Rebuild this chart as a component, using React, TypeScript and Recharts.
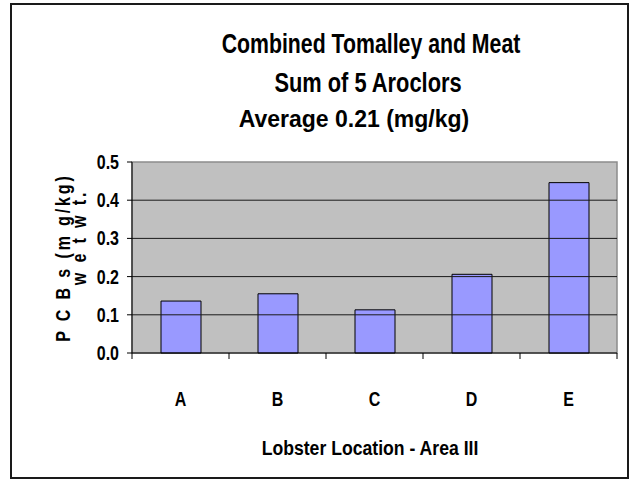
import React from "react";
import {
  BarChart,
  Bar,
  XAxis,
  YAxis,
  ReferenceArea,
  ReferenceLine,
} from "recharts";

// Lobster sampling locations (Area III)
const locations = ["A", "B", "C", "D", "E"];
// Sum of 5 Aroclors, PCBs mg/kg wet wt.
const pcbValues = [0.136, 0.155, 0.113, 0.206, 0.446];
const yTicks = [0, 0.1, 0.2, 0.3, 0.4, 0.5];
const gridValues = [0.1, 0.2, 0.3, 0.4];

const titleLines = ["Combined Tomalley and Meat", "Sum of 5 Aroclors"];
const subtitle = "Average 0.21 (mg/kg)";
const xTitle = "Lobster Location - Area III";
const yTitleLines = ["P C B s (m g/kg)", "w e t w t."];

const data = locations.map((loc, i) => ({ loc, pcb: pcbValues[i] }));

const FONT = "'Liberation Sans', Arial, sans-serif";

// bold condensed text, like Arial Narrow Bold in the original
// (no narrow face installed, so the bold sans is squeezed)
const Narrow = ({ x, y, size, anchor = "middle", rotate = 0, squeeze = 0.8, spacing = 0, children }: any) => (
  <text
    transform={`translate(${x} ${y}) rotate(${rotate}) scale(${squeeze} 1)`}
    textAnchor={anchor}
    fontFamily={FONT}
    fontWeight="bold"
    fontSize={size}
    letterSpacing={spacing}
    fill="#000"
  >
    {children}
  </text>
);

// category label plus the Excel-style tick marks between categories
const CatTick = ({ x, y, payload, index, width }: any) => {
  const half = payload.offset || (width ? width / locations.length / 2 : 0);
  const isLast = index === locations.length - 1;
  return (
    <g>
      <line x1={x - half} y1={y} x2={x - half} y2={y + 6} stroke="#000" />
      {isLast && <line x1={x + half} y1={y} x2={x + half} y2={y + 6} stroke="#000" />}
      <Narrow x={x} y={y + 53} size={20}>
        {payload.value}
      </Narrow>
    </g>
  );
};

const ValueTick = ({ x, y, payload }: any) => (
  <Narrow x={x} y={y + 7} size={20} anchor="end">
    {Number(payload.value).toFixed(1)}
  </Narrow>
);

const YTitle = ({ viewBox }: any) => {
  const cy = viewBox.y + viewBox.height / 2;
  return (
    <g>
      <Narrow x={viewBox.x + 70} y={cy} size={20} rotate={-90} spacing={3.6}>
        {yTitleLines[0]}
      </Narrow>
      <Narrow x={viewBox.x + 86} y={cy - 20} size={20} rotate={-90} spacing={3.6}>
        {yTitleLines[1]}
      </Narrow>
    </g>
  );
};

export default function App() {
  return (
    <div style={{ position: "absolute", left: 0, top: 0, width: 633, height: 479, background: "#fff" }}>
      {/* chart frame */}
      <div
        style={{
          position: "absolute",
          left: 10,
          top: 3,
          width: 619,
          height: 476,
          border: "2px solid #1a1a1a",
          boxSizing: "border-box",
        }}
      />
      <BarChart
        width={633}
        height={479}
        data={data}
        margin={{ top: 162, right: 16, bottom: 0, left: 0 }}
        style={{ position: "absolute", left: 0, top: 0 }}
      >
        {/* gray plot area with its thin gray border */}
        <ReferenceArea y1={0} y2={0.5} fill="#C0C0C0" fillOpacity={1} stroke="#8c8c8c" strokeWidth={1.5} />
        {gridValues.map((v) => (
          <ReferenceLine key={v} y={v} stroke="#1a1a1a" strokeWidth={1} />
        ))}
        <XAxis
          dataKey="loc"
          axisLine={{ stroke: "#000" }}
          tickLine={false}
          tickSize={0}
          tickMargin={0}
          tick={<CatTick />}
          height={126}
        />
        <YAxis
          domain={[0, 0.5]}
          ticks={yTicks}
          width={132}
          tickSize={5}
          tickMargin={8}
          axisLine={{ stroke: "#000" }}
          tickLine={{ stroke: "#000" }}
          tick={<ValueTick />}
          label={<YTitle />}
        />
        <Bar
          dataKey="pcb"
          fill="#9999FF"
          stroke="#000"
          strokeWidth={1}
          barSize={40}
          isAnimationActive={false}
        />
      </BarChart>
      {/* titles */}
      <svg width={633} height={479} style={{ position: "absolute", left: 0, top: 0, pointerEvents: "none" }}>
        <Narrow x={371} y={53} size={28} squeeze={0.76}>
          {titleLines[0]}
        </Narrow>
        <Narrow x={368} y={92} size={28} squeeze={0.78}>
          {titleLines[1]}
        </Narrow>
        <Narrow x={354} y={127} size={23} squeeze={1}>
          {subtitle}
        </Narrow>
        <Narrow x={370} y={455} size={21} squeeze={0.84}>
          {xTitle}
        </Narrow>
      </svg>
    </div>
  );
}
